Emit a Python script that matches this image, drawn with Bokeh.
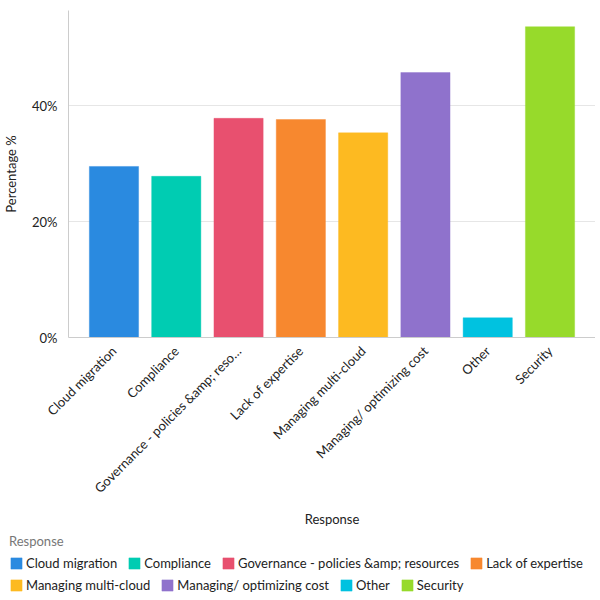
from bokeh.plotting import figure
from bokeh.layouts import column
from bokeh.models import (ColumnDataSource, Range1d, FixedTicker, Legend, LegendItem)
from bokeh.embed import file_html
from bokeh.resources import INLINE

categories = ["Cloud migration", "Compliance", "Governance - policies &amp; resources",
              "Lack of expertise", "Managing multi-cloud", "Managing/ optimizing cost",
              "Other", "Security"]
tick_labels = ["Cloud migration", "Compliance", "Governance - policies &amp; reso\u2026",
               "Lack of expertise", "Managing multi-cloud", "Managing/ optimizing cost",
               "Other", "Security"]
values = [29.5, 27.8, 37.8, 37.6, 35.3, 45.7, 3.4, 53.6]
colors = ["#2a8ae0", "#00ccb2", "#e8506f", "#f7882f", "#fdba21", "#8f72cc", "#00c2e0", "#97da2b"]
y_ticks = [0, 20, 40]

positions = list(range(len(categories)))
src = ColumnDataSource(dict(x=positions, top=values, color=colors, name=categories))

FONT = "Lato"

p = figure(frame_width=527, frame_height=327, output_backend="svg", toolbar_location=None,
           x_range=Range1d(-0.73, len(categories) - 1 + 0.73), y_range=Range1d(0, 56.4),
           min_border_left=0, min_border_right=0, min_border_top=10, min_border_bottom=178)
p.outline_line_color = None
p.frame_align = False

r = p.vbar(x="x", top="top", width=0.79, fill_color="color", line_color="color",
           line_alpha=0.4, source=src)

# axes
p.xaxis.ticker = FixedTicker(ticks=positions)
p.xaxis.major_label_overrides = {i: t for i, t in enumerate(tick_labels)}
p.xaxis.major_label_orientation = 0.785
p.xaxis.axis_label = "Response"
p.yaxis.ticker = FixedTicker(ticks=y_ticks)
p.yaxis.major_label_overrides = {v: f"{v}%" for v in y_ticks}
p.yaxis.axis_label = "Percentage %"
for ax in (p.xaxis, p.yaxis):
    ax.axis_line_color = "#cccccc"
    ax.major_tick_line_color = None
    ax.minor_tick_line_color = None
    ax.major_label_text_font = FONT
    ax.major_label_text_font_size = "13px"
    ax.major_label_text_color = "#222222"
    ax.axis_label_text_font = FONT
    ax.axis_label_text_font_size = "13px"
    ax.axis_label_text_font_style = "normal"
    ax.axis_label_text_color = "#222222"
p.xaxis.major_label_standoff = 5
p.xaxis.axis_label_standoff = 6
p.yaxis.axis_label_standoff = 10
p.xgrid.grid_line_color = None
p.ygrid.grid_line_color = "#e6e6e6"

# legend panel as a second figure
p2 = figure(width=587, height=77, output_backend="svg", toolbar_location=None,
            x_axis_type=None, y_axis_type=None,
            x_range=Range1d(100, 101), y_range=Range1d(100, 101),
            min_border_left=0, min_border_right=0, min_border_top=0, min_border_bottom=0)
p2.outline_line_color = None
p2.grid.grid_line_color = None
p2.frame_align = False
r2 = p2.vbar(x="x", top="top", width=0.79, fill_color="color", line_color="color",
             line_alpha=0.4, source=src)

items = [LegendItem(label=categories[i], renderers=[r2], index=i) for i in positions]

def make_legend(its, loc, title=None):
    lg = Legend(items=its, orientation="horizontal", location=loc,
                label_text_font=FONT, label_text_font_size="13px", label_text_color="#222222",
                glyph_width=14, glyph_height=14, label_standoff=3, spacing=10,
                padding=0, margin=0, border_line_color=None, background_fill_alpha=0,
                label_height=14)
    if title:
        lg.title = title
        lg.title_text_font = FONT
        lg.title_text_font_size = "13px"
        lg.title_text_font_style = "normal"
        lg.title_text_color = "#777777"
        lg.title_standoff = 6
    return lg

p2.add_layout(make_legend(items[:4], (9, 35), "Response"))
p2.add_layout(make_legend(items[4:], (9, 13)))

layout = column(p, p2, spacing=0)
open("out.html", "w").write(file_html(layout, INLINE))
